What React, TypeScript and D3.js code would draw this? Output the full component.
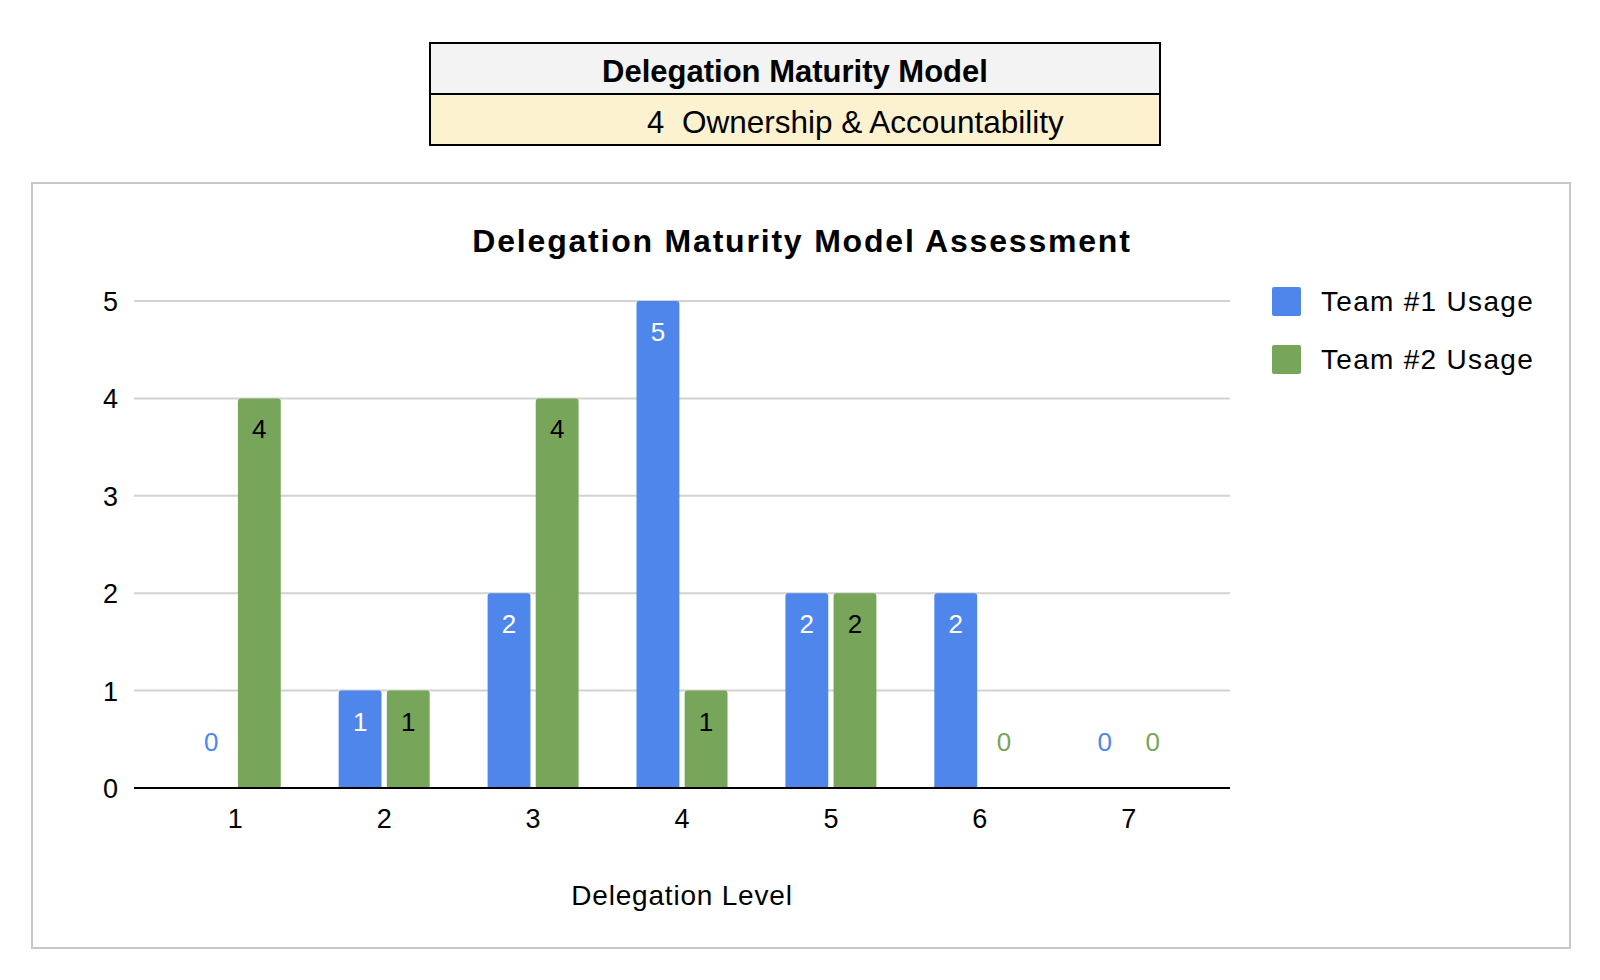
import * as d3 from 'd3'

const levels = ['1', '2', '3', '4', '5', '6', '7']
const seriesNames = ['Team #1 Usage', 'Team #2 Usage']
const team1 = [0, 1, 2, 5, 2, 2, 0]
const team2 = [4, 1, 4, 1, 2, 0, 0]
const yTicks = [0, 1, 2, 3, 4, 5]
const headerTitle = 'Delegation Maturity Model'
const headerLevel = '4'
const headerLabel = 'Ownership & Accountability'
const chartTitle = 'Delegation Maturity Model Assessment'
const xTitle = 'Delegation Level'

const colors = ['#4f86ec', '#77a559']
const labelInside = ['#ffffff', '#000000']
const font = 'Arial, "Liberation Sans", sans-serif'

const W = 1600
const H = 980
const plot = { left: 134, right: 1230, top: 301, bottom: 788 }

function topRoundedBar(x: number, y: number, w: number, h: number, r: number) {
  if (h <= 0) return ''
  const rr = Math.min(r, h, w / 2)
  return `M${x},${y + h}V${y + rr}Q${x},${y} ${x + rr},${y}H${x + w - rr}Q${x + w},${y} ${x + w},${y + rr}V${y + h}Z`
}

export default function App() {
  const x = d3.scalePoint<string>().domain(levels).range([plot.left, plot.right]).padding(0.68)
  const xInner = d3.scaleBand<number>().domain([0, 1]).range([-45.5, 45.5]).paddingInner(0.11)
  const y = d3.scaleLinear().domain([0, 5]).range([plot.bottom, plot.top])

  const series = [team1, team2]

  return (
    <div style={{ position: 'absolute', left: 0, top: 0 }}>
      <svg width={W} height={H} style={{ display: 'block', background: '#fff' }} fontFamily={font}>
        {/* header table */}
        <rect x={430} y={43} width={730} height={51} fill="#f3f3f3" />
        <rect x={430} y={94} width={730} height={51} fill="#fdf2cf" />
        <rect x={430} y={43} width={730} height={102} fill="none" stroke="#000" strokeWidth={2} />
        <line x1={430} x2={1160} y1={94} y2={94} stroke="#000" strokeWidth={2} />
        <text x={795} y={82} textAnchor="middle" fontSize={31} fontWeight="bold" fill="#000">
          {headerTitle}
        </text>
        <text x={647} y={133} fontSize={31} fill="#000">
          {headerLevel}
        </text>
        <text x={682} y={133} fontSize={31.5} fill="#000">
          {headerLabel}
        </text>

        {/* chart frame */}
        <rect x={32} y={183} width={1538} height={765} fill="#fff" stroke="#c8c8c8" strokeWidth={2} />
        <text x={802} y={252} textAnchor="middle" fontSize={32} fontWeight="bold" letterSpacing={1.8} fill="#000">
          {chartTitle}
        </text>

        {/* grid and y ticks */}
        {yTicks.map((t) => (
          <g key={t}>
            {t > 0 && (
              <line x1={plot.left} x2={plot.right} y1={y(t)} y2={y(t)} stroke="#d2d2d2" strokeWidth={2} />
            )}
            <text x={118} y={y(t) + 10} textAnchor="end" fontSize={27} fill="#000">
              {t}
            </text>
          </g>
        ))}

        {/* bars */}
        {levels.map((lvl, i) => (
          <g key={lvl} transform={`translate(${x(lvl)},0)`}>
            {series.map((vals, s) => {
              const v = vals[i]
              const bx = xInner(s) || 0
              const bw = xInner.bandwidth()
              const cx = bx + bw / 2
              if (v === 0) {
                return (
                  <text key={s} x={cx} y={y(0) - 37} textAnchor="middle" fontSize={26} fill={colors[s]}>
                    {v}
                  </text>
                )
              }
              return (
                <g key={s}>
                  <path d={topRoundedBar(bx, y(v), bw, y(0) - y(v), 3)} fill={colors[s]} />
                  <text x={cx} y={y(v) + 40} textAnchor="middle" fontSize={26} fill={labelInside[s]}>
                    {v}
                  </text>
                </g>
              )
            })}
          </g>
        ))}

        {/* baseline */}
        <line x1={plot.left} x2={plot.right} y1={y(0)} y2={y(0)} stroke="#000" strokeWidth={2} />

        {/* x ticks */}
        {levels.map((lvl) => (
          <text key={lvl} x={x(lvl)} y={828} textAnchor="middle" fontSize={27} fill="#000">
            {lvl}
          </text>
        ))}
        <text x={(plot.left + plot.right) / 2} y={905} textAnchor="middle" fontSize={28} letterSpacing={0.8} fill="#000">
          {xTitle}
        </text>

        {/* legend */}
        {seriesNames.map((name, s) => (
          <g key={name} transform={`translate(1272,${287 + s * 58})`}>
            <rect width={29} height={29} rx={2} fill={colors[s]} />
            <text x={49} y={24} fontSize={28} letterSpacing={1.3} fill="#000">
              {name}
            </text>
          </g>
        ))}
      </svg>
    </div>
  )
}
